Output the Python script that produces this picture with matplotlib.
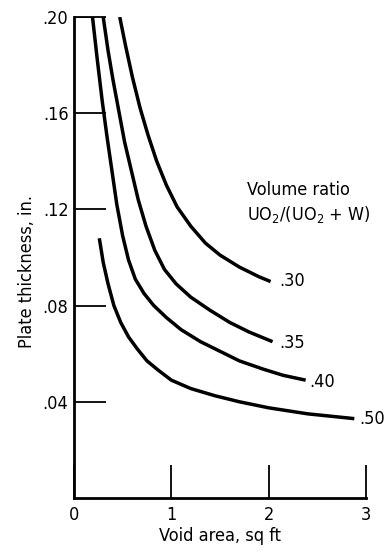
import matplotlib
matplotlib.use("Agg")
import matplotlib.pyplot as plt

plt.rcParams['font.family'] = ['DejaVu Sans']
plt.rcParams['font.stretch'] = 'condensed'
plt.rcParams['mathtext.fontset'] = 'custom'
plt.rcParams['mathtext.rm'] = 'DejaVu Sans:stretch=condensed'
plt.rcParams['mathtext.default'] = 'regular'

# void area (sq ft) vs plate thickness (in.) for each volume ratio
x30 = [0.47, 0.53, 0.60, 0.68, 0.76, 0.85, 0.95, 1.06, 1.20, 1.35, 1.50, 1.70, 1.90, 2.02]
y30 = [0.200, 0.188, 0.175, 0.162, 0.151, 0.140, 0.130, 0.121, 0.113, 0.106, 0.101, 0.096, 0.092, 0.090]

x35 = [0.30, 0.35, 0.40, 0.46, 0.52, 0.59, 0.66, 0.74, 0.83, 0.93, 1.05, 1.20, 1.40, 1.60, 1.80, 2.04]
y35 = [0.200, 0.186, 0.174, 0.161, 0.148, 0.136, 0.124, 0.113, 0.103, 0.095, 0.089, 0.0835, 0.078, 0.073, 0.069, 0.065]

x40 = [0.19, 0.24, 0.29, 0.34, 0.39, 0.44, 0.50, 0.56, 0.63, 0.72, 0.82, 0.95, 1.10, 1.30, 1.50, 1.70, 1.95, 2.15, 2.38]
y40 = [0.200, 0.182, 0.165, 0.150, 0.136, 0.122, 0.109, 0.099, 0.091, 0.085, 0.080, 0.075, 0.070, 0.065, 0.061, 0.057, 0.0535, 0.051, 0.049]

x50 = [0.26, 0.30, 0.35, 0.41, 0.48, 0.56, 0.65, 0.75, 0.87, 1.00, 1.20, 1.45, 1.70, 2.00, 2.40, 2.88]
y50 = [0.108, 0.098, 0.089, 0.080, 0.073, 0.067, 0.062, 0.057, 0.053, 0.049, 0.0455, 0.0425, 0.040, 0.0375, 0.035, 0.033]

curve_labels = ['.30', '.35', '.40', '.50']
label_x = [2.11, 2.11, 2.42, 2.93]
label_y = [0.0904, 0.0646, 0.0483, 0.0330]

xticks = [0, 1, 2, 3]
yticks = [0.04, 0.08, 0.12, 0.16, 0.20]
ytick_labels = ['.04', '.08', '.12', '.16', '.20']

fig = plt.figure(figsize=(3.86, 5.53), dpi=100)
ax = fig.add_axes([74/386, 1-498/553, 292/386, 481/553])

for xs, ys in [(x30, y30), (x35, y35), (x40, y40), (x50, y50)]:
    ax.plot(xs, ys, color='black', lw=2.5, solid_capstyle='butt', solid_joinstyle='round')

# short top edge of the frame up to the .40 curve
ax.plot([0, x40[0]], [0.2, 0.2], color='black', lw=1.3)

for t, lx, ly in zip(curve_labels, label_x, label_y):
    ax.text(lx, ly, t, fontsize=13, ha='left', va='center')

ax.text(1.78, 0.128, 'Volume ratio', fontsize=13, ha='left', va='center')
ax.text(1.78, 0.118, 'UO$_2$/(UO$_2$ + W)', fontsize=13, ha='left', va='center')

ax.set_xlim(0, 3)
ax.set_ylim(0, 0.2)
ax.set_xticks(xticks)
ax.set_xticklabels([str(t) for t in xticks])
ax.set_yticks(yticks)
ax.set_yticklabels(ytick_labels)
ax.tick_params(direction='in', width=1.3, labelsize=13)
ax.tick_params(axis='x', length=24, pad=6)
ax.tick_params(axis='y', length=23, pad=4)

for s in ['top', 'right']:
    ax.spines[s].set_visible(False)
for s in ['left', 'bottom']:
    ax.spines[s].set_linewidth(2.0)

ax.set_xlabel('Void area, sq ft', fontsize=13, labelpad=2)
ax.set_ylabel('Plate thickness, in.', fontsize=13)
ax.yaxis.set_label_coords(-0.13, 0.47)

fig.savefig('out.png', dpi=100)
